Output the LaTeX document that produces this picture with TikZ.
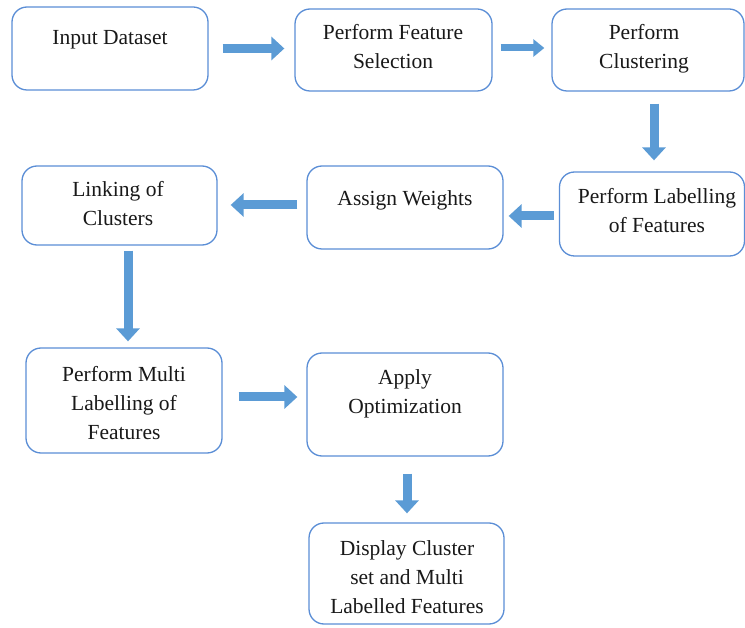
\documentclass[tikz,border=0pt]{standalone}
\usepackage{fontspec}
\setmainfont{Liberation Serif}
\usetikzlibrary{arrows.meta,calc}
\definecolor{boxblue}{HTML}{5B8ED6}
\definecolor{arrowblue}{HTML}{5B9BD5}
\tikzset{
  box/.style={draw=boxblue, line width=1.3pt, rounded corners=15pt, inner sep=0pt, fill=white},
  txt/.style={align=center, font=\fontsize{21.5}{29}\selectfont, inner sep=0pt, text=black!90},
  barrow/.style={draw=arrowblue, line width=9pt, -{Triangle[length=13pt,width=23pt]}},
  sarrow/.style={draw=arrowblue, line width=7pt, -{Triangle[length=11pt,width=17pt]}}
}
\begin{document}
\begin{tikzpicture}[x=1pt,y=-1pt]
\useasboundingbox (0,0) rectangle (745,628);
% boxes
\node[box, minimum width=196pt, minimum height=83pt] (b1) at (110,48.5) {};
\node[box, minimum width=197pt, minimum height=82pt] (b2) at (393.5,50) {};
\node[box, minimum width=192pt, minimum height=82pt] (b3) at (648,50) {};
\node[box, minimum width=185pt, minimum height=84pt] (b4) at (652,214) {};
\node[box, minimum width=196pt, minimum height=83pt] (b5) at (405,207.5) {};
\node[box, minimum width=195pt, minimum height=79pt] (b6) at (119.5,205.5) {};
\node[box, minimum width=196pt, minimum height=105pt] (b7) at (124,400.5) {};
\node[box, minimum width=196pt, minimum height=103pt] (b8) at (405,404.5) {};
\node[box, minimum width=195pt, minimum height=101pt] (b9) at (406.5,573.5) {};
% texts
\node[txt] (t1) at (110,40) {Input Dataset};
\node[txt] (t2) at (393,47) {Perform Feature\\Selection};
\node[txt] (t3) at (644,49) {Perform\\Clustering};
\node[txt] (t4) at (657,211) {Perform Labelling\\of Features};
\node[txt] (t5) at (405,200) {Assign Weights};
\node[txt] (t6) at (118,204) {Linking of\\Clusters};
\node[txt] (t7) at (124,403.5) {Perform Multi\\Labelling of\\Features};
\node[txt] (t8) at (405,394) {Apply\\Optimization};
\node[txt] (t9) at (407,577.5) {Display Cluster\\set and Multi\\Labelled Features};
% arrows
\draw[barrow] ([xshift=14pt]b1.east) -- ([xshift=-10pt]b2.west |- b1.east);
\draw[sarrow] ([xshift=8pt,yshift=2pt]b2.east) coordinate (s2) -- ([xshift=-7pt]b3.west |- s2);
\draw[barrow] ([xshift=6pt,yshift=-12pt]b3.south) coordinate (s3) -- ([yshift=11pt]b4.north -| s3);
\draw[barrow] ([xshift=-5pt,yshift=-2pt]b4.west) coordinate (s4) -- ([xshift=5pt]b5.east |- s4);
\draw[barrow] ([xshift=-9pt,yshift=2.5pt]b5.west) coordinate (s5) -- ([xshift=13pt]b6.east |- s5);
\draw[barrow] ([xshift=8.5pt,yshift=-5pt]b6.south) coordinate (s6) -- ([yshift=6pt]b7.north -| s6);
\draw[barrow] ([xshift=16pt,yshift=3.5pt]b7.east) coordinate (s7) -- ([xshift=-9pt]b8.west |- s7);
\draw[barrow] ([xshift=2pt,yshift=-17pt]b8.south) coordinate (s8) -- ([yshift=9pt]b9.north -| s8);
\end{tikzpicture}
\end{document}
